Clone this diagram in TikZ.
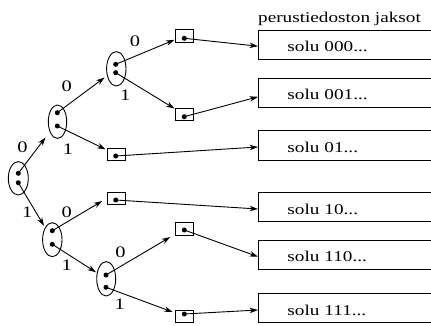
\documentclass[tikz,border=0pt]{standalone}
\usepackage{fontspec}
\setmainfont{Liberation Serif}[FakeStretch=1.28]
\usetikzlibrary{arrows.meta,shapes.geometric}
\tikzset{
  ell/.style={draw, ellipse, inner sep=0pt, line width=0.9pt},
  pdot/.style={circle, fill=black, inner sep=0pt, minimum size=5pt},
  ptrbox/.style={draw, rectangle, inner sep=0pt, minimum width=18.5pt, minimum height=12.5pt, line width=0.9pt},
  bigbox/.style={draw, rectangle, anchor=west, minimum height=29.3pt, text width=150pt, inner xsep=29pt, text height=14pt, text depth=0pt, line width=0.9pt, align=left, font=\fontsize{15}{18}\selectfont},
  lbl/.style={inner sep=0pt, font=\fontsize{16}{19}\selectfont},
  arr/.style={-{Stealth[length=8.5pt,width=5.5pt]}, line width=0.9pt},
}
\begin{document}
\begin{tikzpicture}[x=1pt,y=-1pt]
\useasboundingbox (0,0) rectangle (431,325);
\clip (0,0) rectangle (431,325);
% ellipses
\node[ell, minimum width=20pt, minimum height=33.4pt] (eR) at (18.3,178.3) {};
\node[ell, minimum width=18.4pt, minimum height=33.4pt] (e0) at (57.5,121.7) {};
\node[ell, minimum width=19.4pt, minimum height=34.4pt] (e00) at (116.3,68.8) {};
\node[ell, minimum width=19.4pt, minimum height=34pt] (e1) at (52.3,239.7) {};
\node[ell, minimum width=19pt, minimum height=34.4pt] (e11) at (106.2,278.8) {};
% dots in ellipses
\node[pdot] (dR0) at (18.3,173.3) {};
\node[pdot] (dR1) at (18.3,182.7) {};
\node[pdot] (d00) at (57.3,112.7) {};
\node[pdot] (d01) at (57.3,126) {};
\node[pdot] (d000) at (115.7,64.3) {};
\node[pdot] (d001) at (115.7,72.7) {};
\node[pdot] (d10) at (52.3,230.7) {};
\node[pdot] (d11) at (52.3,244.3) {};
\node[pdot] (d110) at (106,275) {};
\node[pdot] (d111) at (106,287.3) {};
% pointer boxes
\node[ptrbox] (b000) at (184.2,35.8) {};
\node[ptrbox] (b001) at (184.2,114.5) {};
\node[ptrbox] (b01) at (116.2,154.5) {};
\node[ptrbox] (b10) at (116.2,198.5) {};
\node[ptrbox] (b110) at (184.2,228.8) {};
\node[ptrbox] (b111) at (184.2,316.3) {};
\node[pdot] (p000) at (184.3,38.3) {};
\node[pdot] (p001) at (184.3,116.7) {};
\node[pdot] (p01) at (115.7,156) {};
\node[pdot] (p10) at (115.7,200) {};
\node[pdot] (p110) at (184.3,230) {};
\node[pdot] (p111) at (184.3,314) {};
% file blocks
\node[anchor=base west, inner sep=0pt, font=\fontsize{15}{18}\selectfont] (hdr) at (258,22.3) {perustiedoston jaksot};
\node[bigbox] (s000) at (258,44.7) {solu 000...};
\node[bigbox] (s001) at (258,92.8) {solu 001...};
\node[bigbox] (s01) at (258,145.5) {solu 01...};
\node[bigbox] (s10) at (258,207) {solu 10...};
\node[bigbox] (s110) at (258,254.7) {solu 110...};
\node[bigbox] (s111) at (258,308) {solu 111...};
% tree arrows
\draw[arr, shorten >=7pt] (dR0.center) -- (e0);
\draw[arr, shorten >=2pt] (dR1.center) -- (e1);
\draw[arr, shorten >=3pt] (d00.center) -- (e00);
\draw[arr, shorten >=1pt] (d01.center) -- (b01);
\draw[arr] (d000.center) -- (b000);
\draw[arr] (d001.center) -- (b001);
\draw[arr, shorten >=5pt] (d10.center) -- (b10.west);
\draw[arr, shorten >=1pt] (d11.center) -- (e11);
\draw[arr, shorten >=5pt] (d110.center) -- (b110);
\draw[arr, shorten >=2pt] (d111.center) -- (b111);
% pointer arrows
\draw[arr] (p000.center) -- ([yshift=-1.5pt]s000.west);
\draw[arr] (p001.center) -- ([yshift=-4pt]s001.west);
\draw[arr] (p01.center) -- ([yshift=-1.5pt]s01.west);
\draw[arr] (p10.center) -- ([yshift=-2pt]s10.west);
\draw[arr] (p110.center) -- ([yshift=-2pt]s110.west);
\draw[arr] (p111.center) -- ([yshift=-2pt]s111.west);
% labels
\node[lbl] at (22.5,147.5) {0};
\node[lbl] at (27.3,212.5) {1};
\node[lbl] at (66.8,85.8) {0};
\node[lbl] at (68,148.8) {1};
\node[lbl] at (135,41.7) {0};
\node[lbl] at (125.3,95.5) {1};
\node[lbl] at (66.8,212.5) {0};
\node[lbl] at (66.7,265.5) {1};
\node[lbl] at (120.5,252.5) {0};
\node[lbl] at (119.7,304) {1};
\end{tikzpicture}
\end{document}
